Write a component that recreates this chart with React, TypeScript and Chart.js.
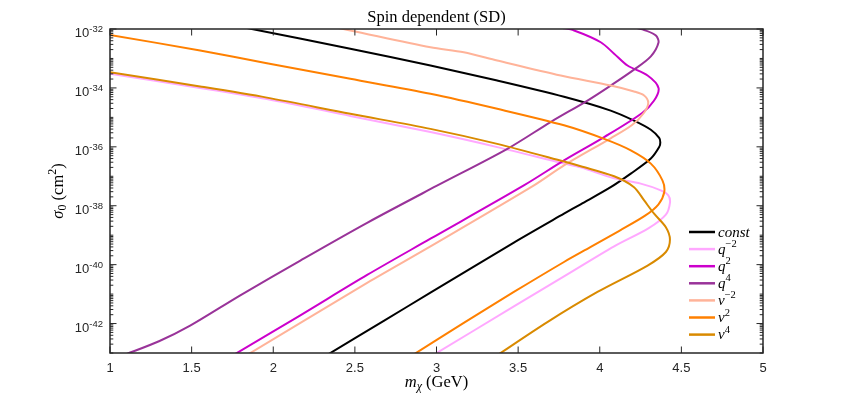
import React, { useEffect, useRef } from 'react';
import { Chart, registerables } from 'chart.js';

Chart.register(...registerables);

// ---------- data (m_chi in GeV, sigma_0 in cm^2) ----------
const constX = [2.335, 2.677, 2.963, 3.474, 3.781, 3.883, 4.067, 4.19, 4.313, 4.364, 4.371, 4.364, 4.313, 4.21, 4.067, 3.781, 3.372, 2.963, 2.472, 1.869, 1.8];
const constY = [8.91e-44, 1.23e-42, 1.12e-41, 5.62e-40, 5.37e-39, 1.12e-38, 4.27e-38, 1.23e-37, 3.98e-37, 9.77e-37, 1.41e-36, 2.0e-36, 3.8e-36, 7.76e-36, 1.7e-35, 5.01e-35, 1.78e-34, 5.75e-34, 2.14e-33, 1.0e-32, 1.2e-32];

const qm2X = [2.98, 3.474, 3.781, 4.088, 4.3, 4.405, 4.43, 4.42, 4.374, 4.251, 4.088, 3.883, 3.781, 3.372, 2.963, 2.472, 1.961, 1.552, 1.0, 0.98];
const qm2Y = [8.51e-44, 3.8e-42, 3.98e-41, 4.17e-40, 1.74e-39, 5.01e-39, 1.26e-38, 2.24e-38, 3.31e-38, 5.62e-38, 8.51e-38, 2.0e-37, 2.69e-37, 9.77e-37, 3.16e-36, 1.12e-35, 4.17e-35, 1.0e-34, 3.02e-34, 3.09e-34];

const q2X = [1.762, 2.166, 2.575, 2.963, 3.535, 3.781, 4.027, 4.26, 4.333, 4.36, 4.293, 4.17, 4.088, 4.006, 3.843, 3.76];
const q2Y = [8.91e-44, 1.91e-42, 4.47e-41, 7.59e-40, 4.9e-38, 3.47e-37, 2.14e-36, 1.41e-35, 3.72e-35, 1.0e-34, 2.63e-34, 5.75e-34, 1.45e-33, 3.55e-33, 8.91e-33, 1.12e-32];

const q4X = [1.08, 1.3, 1.491, 1.798, 2.166, 2.575, 3.0, 3.434, 3.699, 3.925, 4.067, 4.21, 4.313, 4.36, 4.344, 4.282, 4.2];
const q4Y = [8.32e-44, 2.51e-43, 8.51e-43, 9.12e-42, 1.38e-40, 2.63e-39, 4.68e-38, 8.51e-37, 6.92e-36, 3.72e-35, 1.2e-34, 4.17e-34, 1.18e-33, 3.47e-33, 6.03e-33, 8.91e-33, 1.18e-32];

const vm2X = [1.845, 2.575, 2.963, 3.597, 3.781, 4.067, 4.2, 4.27, 4.297, 4.27, 4.21, 4.067, 3.761, 3.372, 3.167, 2.963, 2.472, 2.4];
const vm2Y = [8.91e-44, 2.4e-41, 4.17e-40, 4.9e-38, 2.34e-37, 1.95e-36, 5.62e-36, 1.41e-35, 3.16e-35, 5.62e-35, 7.59e-35, 1.2e-34, 2.63e-34, 8.51e-34, 1.62e-33, 2.4e-33, 8.91e-33, 1.07e-32];

const v2X = [2.86, 3.167, 3.474, 3.781, 3.945, 4.12, 4.28, 4.36, 4.395, 4.384, 4.313, 4.19, 4.027, 3.781, 3.372, 2.963, 2.472, 1.961, 1.552, 1.0, 0.98];
const v2Y = [8.91e-44, 1.05e-42, 1.18e-41, 1.23e-40, 3.98e-40, 1.41e-39, 4.68e-39, 1.12e-38, 2.88e-38, 7.24e-38, 2.69e-37, 7.59e-37, 1.86e-36, 5.37e-36, 1.95e-35, 6.31e-35, 2.04e-34, 6.92e-34, 1.86e-33, 6.31e-33, 6.61e-33];

const v4X = [3.371, 3.679, 3.986, 4.293, 4.405, 4.43, 4.405, 4.333, 4.272, 4.21, 4.088, 3.883, 3.781, 3.372, 2.963, 2.472, 1.961, 1.552, 1.0, 0.98];
const v4Y = [8.32e-44, 1.12e-42, 1.18e-41, 9.33e-41, 2.69e-40, 7.08e-40, 1.86e-39, 5.37e-39, 1.51e-38, 4.27e-38, 1.0e-37, 2.19e-37, 3.16e-37, 1.26e-36, 4.07e-36, 1.32e-35, 4.68e-35, 1.12e-34, 3.39e-34, 3.47e-34];

const seriesBase = ['const', 'q', 'q', 'q', 'v', 'v', 'v'];
const seriesPow = ['', '\u22122', '2', '4', '\u22122', '2', '4'];
const seriesColors = ['#000000', '#FFA8FF', '#CC00CC', '#993399', '#FFB399', '#FF8000', '#D98A00'];
const seriesX = [constX, qm2X, q2X, q4X, vm2X, v2X, v4X];
const seriesY = [constY, qm2Y, q2Y, q4Y, vm2Y, v2Y, v4Y];

const xTicks = [1, 1.5, 2, 2.5, 3, 3.5, 4, 4.5, 5];
const xTickLabels = ['1', '1.5', '2', '2.5', '3', '3.5', '4', '4.5', '5'];
const yDecades = [1e-43, 1e-42, 1e-41, 1e-40, 1e-39, 1e-38, 1e-37, 1e-36, 1e-35, 1e-34, 1e-33, 1e-32];
const yLabelValues = [1e-32, 1e-34, 1e-36, 1e-38, 1e-40, 1e-42];
const yLabelExps = ['-32', '-34', '-36', '-38', '-40', '-42'];

const titleText = 'Spin dependent (SD)';

// ---------- drawing helpers ----------
type Part = { t: string; f: string; dy?: number };
const AX = '#262626';
const SANS = '"Liberation Sans", Arial, sans-serif';
const SERIF = '"Liberation Serif", "Times New Roman", serif';

function partsWidth(ctx: CanvasRenderingContext2D, parts: Part[]) {
  let w = 0;
  for (const p of parts) {
    ctx.font = p.f;
    w += ctx.measureText(p.t).width;
  }
  return w;
}
function drawParts(ctx: CanvasRenderingContext2D, parts: Part[], x: number, y: number, align: 'left' | 'center' | 'right') {
  const w = partsWidth(ctx, parts);
  let cx = align === 'left' ? x : align === 'center' ? x - w / 2 : x - w;
  ctx.textAlign = 'left';
  ctx.textBaseline = 'alphabetic';
  for (const p of parts) {
    ctx.font = p.f;
    ctx.fillText(p.t, cx, y + (p.dy || 0));
    cx += ctx.measureText(p.t).width;
  }
}

const axesPlugin = {
  id: 'matlabAxes',
  afterDatasetsDraw(chart: any) {
    const { ctx, chartArea: a, scales } = chart;
    const xs = scales.x;
    const ys = scales.y;
    ctx.save();
    ctx.strokeStyle = AX;
    ctx.fillStyle = AX;
    ctx.lineWidth = 1;
    const L = 6.5;
    const Lm = 3.3;
    ctx.beginPath();
    for (const v of xTicks) {
      const px = xs.getPixelForValue(v);
      ctx.moveTo(px, a.bottom);
      ctx.lineTo(px, a.bottom - L);
      ctx.moveTo(px, a.top);
      ctx.lineTo(px, a.top + L);
    }
    for (let i = 0; i < yDecades.length; i++) {
      const d = yDecades[i];
      const py = ys.getPixelForValue(d);
      const len = yLabelValues.includes(d) ? L : Lm;
      ctx.moveTo(a.left, py);
      ctx.lineTo(a.left + len, py);
      ctx.moveTo(a.right, py);
      ctx.lineTo(a.right - len, py);
      if (i < yDecades.length - 1) {
        for (let k = 2; k <= 9; k++) {
          const pm = ys.getPixelForValue(d * k);
          ctx.moveTo(a.left, pm);
          ctx.lineTo(a.left + Lm, pm);
          ctx.moveTo(a.right, pm);
          ctx.lineTo(a.right - Lm, pm);
        }
      }
    }
    ctx.stroke();
    ctx.lineWidth = 1.5;
    ctx.strokeRect(a.left, a.top, a.right - a.left, a.bottom - a.top);

    // tick labels
    ctx.fillStyle = AX;
    ctx.textAlign = 'center';
    ctx.textBaseline = 'alphabetic';
    ctx.font = `13px ${SANS}`;
    xTicks.forEach((v, i) => {
      ctx.fillText(xTickLabels[i], xs.getPixelForValue(v), a.bottom + 19);
    });
    yLabelValues.forEach((v, i) => {
      const py = ys.getPixelForValue(v);
      drawParts(ctx, [
        { t: '10', f: `13px ${SANS}` },
        { t: yLabelExps[i], f: `9.5px ${SANS}`, dy: -5 },
      ], a.left - 7, py + 8.3, 'right');
    });

    // title
    ctx.fillStyle = '#000000';
    ctx.font = `16.5px ${SERIF}`;
    ctx.textAlign = 'center';
    ctx.fillText(titleText, (a.left + a.right) / 2, 21.5);

    // x label
    drawParts(ctx, [
      { t: 'm', f: `italic 16.5px ${SERIF}` },
      { t: '\u03C7', f: `italic 12px ${SERIF}`, dy: 3 },
      { t: ' (GeV)', f: `16.5px ${SERIF}` },
    ], (a.left + a.right) / 2, a.bottom + 34, 'center');

    // y label
    ctx.save();
    ctx.translate(a.left - 47, (a.top + a.bottom) / 2);
    ctx.rotate(-Math.PI / 2);
    drawParts(ctx, [
      { t: '\u03C3', f: `italic 16.5px ${SERIF}` },
      { t: '0', f: `12px ${SERIF}`, dy: 3 },
      { t: ' (cm', f: `16.5px ${SERIF}` },
      { t: '2', f: `12px ${SERIF}`, dy: -7 },
      { t: ')', f: `16.5px ${SERIF}` },
    ], 0, 0, 'center');
    ctx.restore();

    // legend
    const lx0 = 689;
    const lx1 = 715;
    const ly0 = 232;
    const dyL = 17.1;
    seriesBase.forEach((b, i) => {
      const y = ly0 + i * dyL;
      ctx.strokeStyle = seriesColors[i];
      ctx.lineWidth = 2.5;
      ctx.beginPath();
      ctx.moveTo(lx0, y);
      ctx.lineTo(lx1, y);
      ctx.stroke();
      ctx.fillStyle = '#000000';
      const parts: Part[] = [{ t: b, f: `italic 15px ${SERIF}` }];
      if (seriesPow[i]) parts.push({ t: seriesPow[i], f: `10.5px ${SERIF}`, dy: -6.5 });
      drawParts(ctx, parts, lx1 + 3, y + 4.5, 'left');
    });
    ctx.restore();
  },
};

export default function App() {
  const canvasRef = useRef<HTMLCanvasElement | null>(null);

  useEffect(() => {
    const canvas = canvasRef.current;
    if (!canvas) return;
    const datasets = seriesX.map((xsArr, i) => ({
      label: seriesBase[i] + seriesPow[i],
      data: xsArr.map((x, j) => ({ x, y: seriesY[i][j] })),
      borderColor: seriesColors[i],
      backgroundColor: seriesColors[i],
      borderWidth: 2,
      showLine: true,
      pointRadius: 0,
      tension: 0.3,
      fill: false,
      clip: 0,
      order: seriesX.length - i,
    }));
    const chart = new Chart(canvas, {
      type: 'scatter',
      data: { datasets },
      options: {
        animation: false,
        responsive: false,
        maintainAspectRatio: false,
        devicePixelRatio: 1,
        layout: { padding: { left: 110, right: 80, top: 29, bottom: 44 } },
        scales: {
          x: { type: 'linear', min: 1, max: 5, display: false },
          y: { type: 'logarithmic', min: 1e-43, max: 1e-32, display: false },
        },
        plugins: {
          legend: { display: false },
          tooltip: { enabled: false },
          title: { display: false },
        },
        events: [],
      },
      plugins: [axesPlugin],
    } as any);
    return () => chart.destroy();
  }, []);

  return (
    <div style={{ position: 'absolute', left: 0, top: 0, width: 843, height: 397, background: '#ffffff' }}>
      <canvas ref={canvasRef} width={843} height={397} style={{ display: 'block', width: 843, height: 397 }} />
    </div>
  );
}
